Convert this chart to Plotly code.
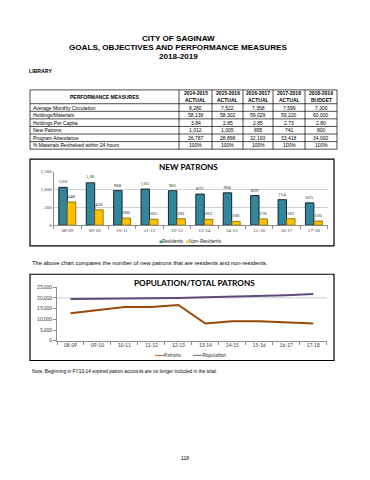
import plotly.graph_objects as go

W, H = 370, 480
def px(x): return x / W
def py(y): return 1 - y / H

# ---------------- data ----------------
fiscal_years = ["08-09", "09-10", "10-11", "11-12", "12-13", "13-14", "14-15", "15-16", "16-17", "17-18"]
residents = [1058, 1186, 968, 1012, 965, 872, 906, 829, 714, 625]
non_residents = [648, 430, 200, 165, 181, 163, 106, 176, 181, 116]
patrons = [12800, 14200, 15700, 15700, 16650, 8050, 9100, 9100, 8600, 8050]
population = [19400, 19450, 19750, 19800, 19900, 20300, 20550, 20850, 21250, 21750]

table_year_headers = ["2014-2015", "2015-2016", "2016-2017", "2017-2018", "2018-2019"]
table_kind_headers = ["ACTUAL", "ACTUAL", "ACTUAL", "ACTUAL", "BUDGET"]
measures = ["Average Monthly Circulation", "Holdings/Materials", "Holdings Per Capita",
            "New Patrons", "Program Attendance", "% Materials Reshelved within 24 hours"]
actual_2014_2015 = ["8,280", "58,138", "3.84", "1,012", "26,787", "100%"]
actual_2015_2016 = ["7,522", "58,302", "2.85", "1,005", "28,898", "100%"]
actual_2016_2017 = ["7,358", "59,029", "2.85", "895", "32,193", "100%"]
actual_2017_2018 = ["7,599", "59,220", "2.73", "741", "33,418", "100%"]
budget_2018_2019 = ["7,300", "60,000", "2.80", "800", "34,000", "100%"]

RES_C = "#31859C"
NONRES_C = "#FFC000"
PATRON_C = "#984807"
POP_C = "#604A7B"

fig = go.Figure()

# ---------------- chart 1: new patrons ----------------
fig.add_trace(go.Bar(x=fiscal_years, y=residents, name="Residents",
                     marker=dict(color=RES_C, line=dict(color="black", width=0.8)),
                     texttemplate="%{y:,}", textposition="outside", cliponaxis=False,
                     textfont=dict(family="Liberation Serif", size=5, color="#222"),
                     xaxis="x", yaxis="y", showlegend=False))
fig.add_trace(go.Bar(x=fiscal_years, y=non_residents, name="Non-Residents",
                     marker=dict(color=NONRES_C, line=dict(color="#7F6000", width=0.8)),
                     texttemplate="%{y:,}", textposition="outside", cliponaxis=False,
                     textfont=dict(family="Liberation Serif", size=5, color="#222"),
                     xaxis="x", yaxis="y", showlegend=False))

# ---------------- chart 2: population / total patrons ----------------
fig.add_trace(go.Scatter(x=fiscal_years, y=patrons, name="Patrons", mode="lines",
                         line=dict(color=PATRON_C, width=2), xaxis="x2", yaxis="y2",
                         showlegend=False))
fig.add_trace(go.Scatter(x=fiscal_years, y=population, name="Population", mode="lines",
                         line=dict(color=POP_C, width=2), xaxis="x2", yaxis="y2",
                         showlegend=False))

tick_font1 = dict(family="Liberation Serif", size=5, color="#333")
tick_font2 = dict(family="Lato", size=4.8, color="#333")

fig.update_layout(
    width=W, height=H, margin=dict(l=0, r=0, t=0, b=0),
    paper_bgcolor="white", plot_bgcolor="white",
    barmode="group", bargap=0.38, bargroupgap=0,
    xaxis=dict(type="category", domain=[px(53.6), px(327.6)], anchor="y", showline=True,
               range=[-0.5, len(fiscal_years) - 0.5],
               linecolor="#8C8C8C", linewidth=0.8, ticks="outside", tickson="boundaries",
               ticklen=3, tickcolor="#8C8C8C", tickfont=tick_font1, showgrid=False, fixedrange=True),
    yaxis=dict(domain=[py(225), py(170.7)], anchor="x", range=[0, 1500],
               tickvals=[0, 500, 1000, 1500], tickformat=",", showline=True,
               linecolor="#8C8C8C", linewidth=0.8, showgrid=True, gridcolor="#D0D0D0",
               gridwidth=0.8, tickfont=tick_font1, ticks="", zeroline=False, fixedrange=True),
    xaxis2=dict(type="category", domain=[px(57), px(326.7)], anchor="y2", showline=True,
                range=[-0.5, len(fiscal_years) - 0.5],
                linecolor="#8C8C8C", linewidth=0.8, ticks="outside", tickson="boundaries",
                ticklen=3, tickcolor="#8C8C8C", tickfont=tick_font2, showgrid=False, fixedrange=True),
    yaxis2=dict(domain=[py(342), py(287.7)], anchor="x2", range=[0, 25000], dtick=5000,
                tickformat=",", showline=True, linecolor="#8C8C8C", linewidth=0.8,
                ticks="outside", ticklen=3, tickcolor="#8C8C8C",
                showgrid=False, tickfont=tick_font2, zeroline=False, fixedrange=True),
    showlegend=False,
)

# ---------------- performance table (grid + text from the lists) ----------------
col_edges = [30, 179, 212, 243, 273, 305, 337]
table_top, header_bottom, row_h = 88, 102, 7.67
n_rows = len(measures)
row_edges = [table_top, header_bottom] + [header_bottom + row_h * (i + 1) for i in range(n_rows)]
grid = dict(color="black", width=0.7)
for yv in row_edges:
    fig.add_shape(type="line", xref="paper", yref="paper", x0=px(col_edges[0]), x1=px(col_edges[-1]),
                  y0=py(yv), y1=py(yv), line=grid)
for xv in col_edges:
    fig.add_shape(type="line", xref="paper", yref="paper", x0=px(xv), x1=px(xv),
                  y0=py(row_edges[0]), y1=py(row_edges[-1]), line=grid)

def ann(text, x, y, size, bold=False, family="Liberation Sans", xanchor="center", color="black"):
    fig.add_annotation(text=text, x=px(x), y=py(y), xref="paper", yref="paper",
                       showarrow=False, xanchor=xanchor, yanchor="middle",
                       font=dict(family=family, size=size, color=color,
                                 weight="bold" if bold else "normal"))

TF = 5
ann("PERFORMANCE MEASURES", (col_edges[0] + col_edges[1]) / 2, (table_top + header_bottom) / 2, TF, bold=True)
value_cols = [actual_2014_2015, actual_2015_2016, actual_2016_2017, actual_2017_2018, budget_2018_2019]
for j, (yr, kind, vals) in enumerate(zip(table_year_headers, table_kind_headers, value_cols)):
    cx = (col_edges[j + 1] + col_edges[j + 2]) / 2
    ann(yr, cx, 91.5, TF, bold=True)
    ann(kind, cx, 98, TF, bold=True)
    for i, v in enumerate(vals):
        ann(v, cx, header_bottom + row_h * (i + 0.5), TF)
for i, m in enumerate(measures):
    ann(m, 31, header_bottom + row_h * (i + 0.5), TF, xanchor="left")

# chart frames and gridline
fig.add_shape(type="rect", xref="paper", yref="paper", x0=px(30), x1=px(334), y0=py(246), y1=py(158),
              line=dict(color="black", width=1.2))
fig.add_shape(type="rect", xref="paper", yref="paper", x0=px(30), x1=px(334), y0=py(362), y1=py(274.7),
              line=dict(color="black", width=1.2))
fig.add_shape(type="line", xref="x2 domain", yref="y2", x0=0, x1=1, y0=20000, y1=20000,
              line=dict(color="#BFBFBF", width=0.8), layer="below")

# page titles
ann("CITY OF SAGINAW", 178, 36, 8.1, bold=True)
ann("GOALS, OBJECTIVES AND PERFORMANCE MEASURES", 178, 45, 8.1, bold=True)
ann("2018-2019", 178, 54.5, 8.1, bold=True)
ann("LIBRARY", 27, 69, 5.2, bold=True, xanchor="left")

# chart titles
ann("NEW PATRONS", 188, 166, 8.2, bold=True, family="Lato")
ann("POPULATION/TOTAL PATRONS", 195, 283.5, 8.2, bold=True, family="Lato")

# legends
ann(f"<span style='color:{RES_C}'>■</span>Residents  <span style='color:{NONRES_C}'>■</span>Non-Residents",
    190, 241.5, 5, family="Lato", color="#333")
ann(f"<span style='color:{PATRON_C}'>━━━</span>Patrons          <span style='color:{POP_C}'>━━━</span>Population",
    190, 356.5, 5, family="Lato", color="#333")

# notes
ann("The above chart compares the number of new patrons that are residents and non-residents.",
    30, 263.5, 5.8, xanchor="left")
ann("Note: Beginning in FY13-14 expired patron accounts are no longer included in the total.",
    30, 373.5, 4.8, xanchor="left")
ann("118", 185, 461, 5)

fig.write_html("out.html", config={"displayModeBar": False},
               post_script="document.body.style.margin='0';document.body.style.overflow='hidden';")
